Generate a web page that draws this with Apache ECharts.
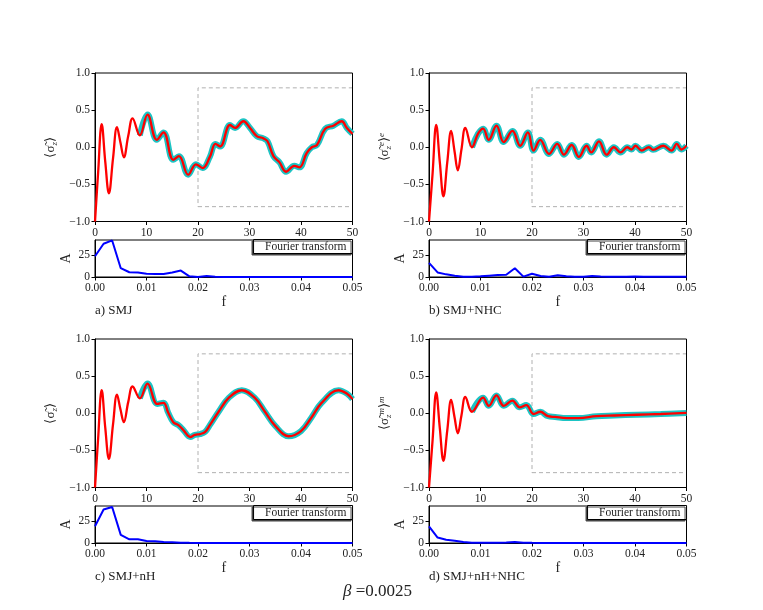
<!DOCTYPE html>
<html lang="en">
<head>
    <meta charset="UTF-8">
    <meta name="viewport" content="width=device-width, initial-scale=1.0">
    <script src="https://cdn.jsdelivr.net/npm/echarts@6/dist/echarts.min.js"></script>
    <style>
        html, body { margin: 0; padding: 0; background: #fff; }
        #main { width: 763px; height: 610px; }
    </style>
</head>
<body>
    <div id="main"></div>
</body>
<script>
    // time traces (t, <sigma_z>)
    var smjT = [0, 0.6, 1.3, 2.0, 2.7, 3.5, 4.27, 4.95, 5.6, 6.45, 7.3, 8.7, 10.2, 12.0, 13.3, 15.2, 16.3, 18.1, 19.6, 20.9, 22.3, 23.4, 24.3, 26.2, 27.2, 28.8, 30.1, 31.4, 32.7, 33.5, 34.65, 35.8, 37.1, 38.7, 39.7, 41.1, 42.1, 43.1, 44.7, 46.3, 47.9, 48.9, 50];
    var smjV = [-1, -0.35, 0.31, -0.2, -0.62, -0.15, 0.27, 0.06, -0.135, 0.15, 0.39, 0.16, 0.44, 0.10, 0.20, -0.17, -0.12, -0.37, -0.23, -0.28, -0.13, 0.045, 0.01, 0.30, 0.26, 0.35, 0.26, 0.15, 0.12, 0.08, -0.12, -0.2, -0.33, -0.25, -0.27, -0.08, 0.0, 0.03, 0.25, 0.29, 0.35, 0.26, 0.18];

    var nhcT = [0, 0.7, 1.4, 2.1, 2.8, 3.55, 4.3, 4.95, 5.6, 6.3, 7.06, 8.35, 9.5, 10.5, 11.6, 13.1, 14.5, 16.2, 17.7, 19.2, 20.3, 21.6, 23.3, 24.9, 26.2, 27.7, 29.1, 30.6, 31.5, 33.0, 34.5, 35.9, 37.2, 38.5, 39.3, 40.1, 41.3, 42.7, 43.5, 45.5, 47.1, 48.1, 49.0, 50];
    var nhcV = [-1, -0.35, 0.30, -0.2, -0.66, -0.2, 0.22, -0.05, -0.31, -0.03, 0.26, 0.0, 0.18, 0.25, 0.10, 0.29, 0.07, 0.22, 0.02, 0.20, -0.045, 0.10, -0.09, 0.045, -0.10, 0.03, -0.13, 0.02, -0.07, 0.08, -0.10, 0.0, -0.07, 0.0, -0.03, 0.02, -0.045, 0.0, -0.035, 0.02, -0.045, 0.045, -0.03, 0.02];

    var nhT = [0, 0.6, 1.3, 2.0, 2.7, 3.5, 4.27, 4.95, 5.6, 6.45, 7.3, 8.7, 10.2, 12.1, 13.3, 14.2, 15.2, 16.2, 17.2, 18.5, 19.4, 20.4, 21.4, 22.3, 24, 26, 28.5, 31, 33, 35, 37.6, 40, 42, 44, 47.3, 49, 50];
    var nhV = [-1, -0.35, 0.31, -0.2, -0.615, -0.15, 0.25, 0.05, -0.12, 0.15, 0.36, 0.20, 0.40, 0.125, 0.14, 0.01, -0.12, -0.16, -0.23, -0.32, -0.29, -0.28, -0.25, -0.16, 0.02, 0.21, 0.31, 0.21, 0.02, -0.17, -0.31, -0.24, -0.06, 0.14, 0.31, 0.26, 0.19];

    var nhNhcT = [0, 0.7, 1.4, 2.1, 2.8, 3.55, 4.3, 4.95, 5.6, 6.3, 7.06, 8.35, 10.5, 11.6, 13.1, 14.5, 16.2, 17.6, 18.9, 20.3, 21.6, 23.1, 24.5, 26.7, 29, 32.5, 36, 40.3, 45, 50];
    var nhNhcV = [-1, -0.36, 0.28, -0.2, -0.64, -0.23, 0.18, -0.05, -0.27, -0.03, 0.22, 0.02, 0.21, 0.10, 0.24, 0.10, 0.17, 0.08, 0.11, -0.01, 0.02, -0.04, -0.05, -0.065, -0.065, -0.04, -0.03, -0.02, -0.01, 0.005];

    // fourier spectra
    var freq = [0, 0.00167, 0.00333, 0.005, 0.00667, 0.00833, 0.01, 0.01167, 0.01333, 0.015, 0.01667, 0.01833, 0.02, 0.02167, 0.02333, 0.025, 0.02667, 0.02833, 0.03, 0.03167, 0.03333, 0.035, 0.03667, 0.03833, 0.04, 0.04167, 0.04333, 0.045, 0.04667, 0.04833, 0.05];
    var ampA = [23.5, 37.7, 41.5, 10, 5.4, 5, 3.8, 3.5, 3.5, 5, 7.3, 0.8, 0, 1.2, 0.3, 0.1, 0, 0, 0, 0, 0, 0, 0, 0, 0, 0, 0, 0, 0, 0, 0];
    var ampB = [16, 5.2, 3, 1.5, 0.4, 0.3, 0.8, 1.5, 2.2, 2.6, 10, 0.4, 3.7, 1.1, 0.3, 1.9, 0.8, 0.3, 0.3, 1, 0.6, 0.4, 0.3, 0.3, 0.5, 0.3, 0.3, 0.3, 0.3, 0.3, 0.3];
    var ampC = [19, 38, 40.8, 9.2, 4.2, 4.2, 2.3, 1.9, 1.2, 0.8, 0.4, 0.2, 0.1, 0.1, 0.1, 0.1, 0.1, 0, 0, 0, 0, 0, 0, 0, 0, 0, 0, 0, 0, 0, 0];
    var ampD = [18.8, 6.2, 3.7, 2.6, 1.1, 0.4, 0.2, 0.2, 0.3, 0.6, 1, 0.4, 0.2, 0.1, 0.1, 0.1, 0.1, 0.1, 0.1, 0.1, 0.1, 0.1, 0.1, 0.1, 0.1, 0.1, 0.1, 0.1, 0.1, 0.1, 0.1];

    var boxT = [20, 50];
    var boxV = [-0.8, 0.8];
    var cyanFrom = 7.5;

    var captions = ['a) SMJ', 'b) SMJ+NHC', 'c) SMJ+nH', 'd) SMJ+nH+NHC'];
    var yNames = [
        '{n|⟨σ̃}{s|z}{n|⟩}',
        '{n|⟨σ̃}{s|z}{p|e}{n|⟩}{p|e}',
        '{n|⟨σ̃}{s|z}{n|⟩}',
        '{n|⟨σ̃}{s|z}{p|m}{n|⟩}{p|m}'
    ];

    var font = 'Liberation Serif';
    var traces = [[smjT, smjV], [nhcT, nhcV], [nhT, nhV], [nhNhcT, nhNhcV]];
    var spectra = [ampA, ampB, ampC, ampD];

    var lefts = [95, 429, 95, 429];
    var mainTops = [73, 73, 339, 339];
    var fTops = [240, 240, 506, 506];

    function zip(a, b) {
        var out = [];
        for (var i = 0; i < a.length; i++) out.push([a[i], b[i]]);
        return out;
    }
    function minus(s) { return String(s).replace('-', '\u2212'); }

    var labelStyle = { color: '#222', fontFamily: font, fontSize: 11.5, margin: 5 };
    var lineStyle = { onZero: false, lineStyle: { color: '#000', width: 1 } };
    var tickStyle = { length: 3.5, lineStyle: { color: '#000' } };

    var grid = [], xAxis = [], yAxis = [], series = [], title = [];

    for (var p = 0; p < 4; p++) {
        grid.push({ left: lefts[p], top: mainTops[p], width: 257.5, height: 148.5,
            show: true, borderColor: '#000', borderWidth: 1, z: 3 });
        grid.push({ left: lefts[p], top: fTops[p], width: 257.5, height: 37,
            show: true, borderColor: '#000', borderWidth: 1 });

        xAxis.push({ gridIndex: 2 * p, type: 'value', min: 0, max: 50, interval: 10,
            axisLine: lineStyle, axisTick: tickStyle,
            splitLine: { show: false }, axisLabel: labelStyle });
        xAxis.push({ gridIndex: 2 * p + 1, type: 'value', min: 0, max: 0.05, interval: 0.01,
            name: 'f', nameLocation: 'middle', nameGap: 18,
            nameTextStyle: { fontFamily: font, fontSize: 14, color: '#222' },
            axisLine: lineStyle, axisTick: tickStyle,
            splitLine: { show: false },
            axisLabel: Object.assign({}, labelStyle, { formatter: function (v) { return v.toFixed(2); } }) });

        yAxis.push({ gridIndex: 2 * p, type: 'value', min: -1, max: 1, interval: 0.5,
            name: yNames[p], nameLocation: 'middle', nameGap: 36, nameRotate: 90,
            nameTextStyle: { color: '#222', rich: {
                n: { fontFamily: font, fontSize: 13, color: '#222', lineHeight: 16 },
                s: { fontFamily: font, fontSize: 9, fontStyle: 'italic', color: '#222', lineHeight: 16, verticalAlign: 'bottom', padding: [5, 0, 0, 0] },
                p: { fontFamily: font, fontSize: 9, fontStyle: 'italic', color: '#222', lineHeight: 16, verticalAlign: 'top', padding: [0, 0, 6, 0] }
            } },
            axisLine: lineStyle, axisTick: tickStyle,
            splitLine: { show: false },
            axisLabel: Object.assign({}, labelStyle, { formatter: function (v) { return minus(v.toFixed(1)); } }) });
        yAxis.push({ gridIndex: 2 * p + 1, type: 'value', min: 0, max: 42, interval: 25,
            name: 'A', nameLocation: 'middle', nameGap: 22, nameRotate: 90,
            nameTextStyle: { fontFamily: font, fontSize: 14, color: '#222' },
            axisLine: lineStyle, axisTick: tickStyle,
            splitLine: { show: false },
            axisLabel: Object.assign({}, labelStyle, { showMaxLabel: false,
                formatter: function (v) { return (v === 0 || v === 25) ? String(v) : ''; } }) });

        var tr = zip(traces[p][0], traces[p][1]);
        // dashed window, kept under the frame
        series.push({ type: 'line', xAxisIndex: 2 * p, yAxisIndex: 2 * p, data: [], z: 1,
            markArea: { silent: true,
                itemStyle: { color: 'rgba(0,0,0,0)', borderColor: '#b0b0b0', borderWidth: 1, borderType: [4, 3] },
                data: [[{ coord: [boxT[0], boxV[0]] }, { coord: [boxT[1], boxV[1]] }]] } });
        series.push({ type: 'line', xAxisIndex: 2 * p, yAxisIndex: 2 * p,
            data: tr.filter(function (d) { return d[0] >= cyanFrom; }),
            smooth: 0.4, showSymbol: false, silent: true,
            lineStyle: { color: '#1cc4c4', width: 6 } });
        series.push({ type: 'line', xAxisIndex: 2 * p, yAxisIndex: 2 * p, data: tr,
            smooth: 0.4, showSymbol: false, silent: true,
            lineStyle: { color: '#ff0000', width: 2.3 } });
        series.push({ type: 'line', xAxisIndex: 2 * p + 1, yAxisIndex: 2 * p + 1,
            data: zip(freq, spectra[p]), showSymbol: false, silent: true,
            lineStyle: { color: '#0000ff', width: 2 } });

        // legend-like box in the spectrum panel
        title.push({ text: 'Fourier transform', right: 763 - (lefts[p] + 257.5), top: fTops[p],
            padding: [1, 6, 1, 12], borderColor: '#000', borderWidth: 1, backgroundColor: '#fff',
            shadowColor: '#444', shadowOffsetX: -1.5, shadowOffsetY: 1.5,
            textStyle: { fontFamily: font, fontSize: 11.5, fontWeight: 'normal', color: '#222', lineHeight: 11 } });
        title.push({ text: captions[p], left: lefts[p], top: mainTops[p] + 231, padding: 0,
            textStyle: { fontFamily: font, fontSize: 13, fontWeight: 'normal', color: '#222' } });
    }

    title.push({ text: '{i|β} =0.0025', left: 343, top: 583, padding: 0,
        textStyle: { fontFamily: font, fontSize: 17, fontWeight: 'normal', color: '#222',
            rich: { i: { fontFamily: font, fontSize: 17, fontStyle: 'italic', color: '#222' } } } });

    var myChart = echarts.init(document.getElementById('main'));
    myChart.setOption({
        animation: false,
        title: title,
        grid: grid,
        xAxis: xAxis,
        yAxis: yAxis,
        series: series
    });
</script>
</html>
